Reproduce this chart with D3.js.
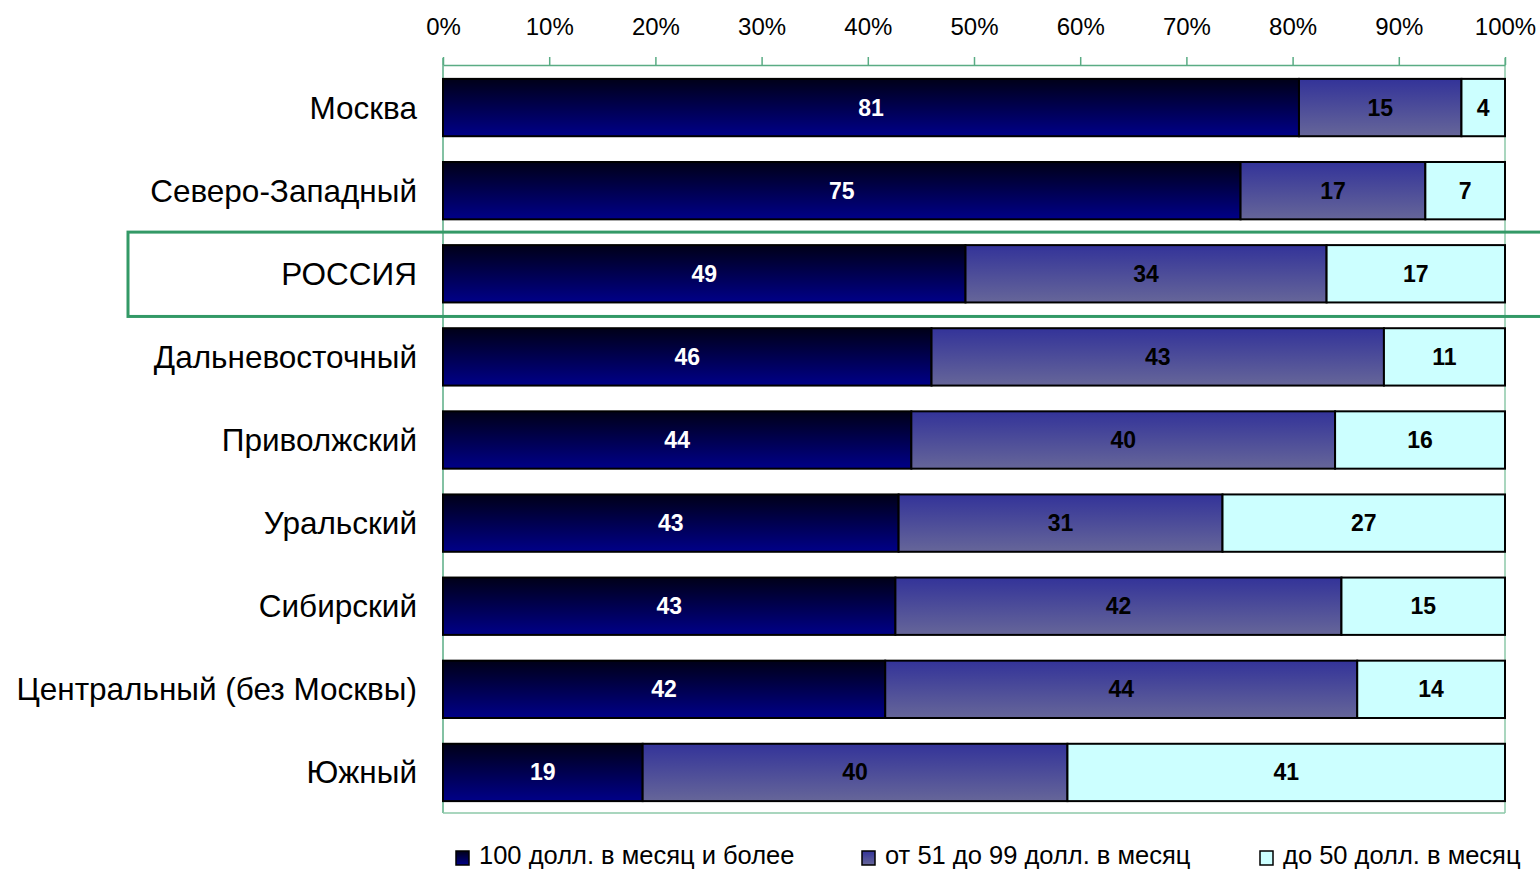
<!DOCTYPE html>
<html><head><meta charset="utf-8">
<script src="https://cdn.jsdelivr.net/npm/d3@7"></script>
<style>html,body{margin:0;padding:0;background:#fff}svg{display:block}</style>
</head><body>
<svg id="c" width="1540" height="871"></svg>
<script>
const categories = ["Москва","Северо-Западный","РОССИЯ","Дальневосточный","Приволжский","Уральский","Сибирский","Центральный (без Москвы)","Южный"];
const seriesNames = ["100 долл. в месяц и более","от 51 до 99 долл. в месяц","до 50 долл. в месяц"];
const high = [80.6,75.1,49.2,46.0,44.1,42.9,42.6,41.6,18.8];
const mid  = [15.3,17.4,34.0,42.6,39.9,30.5,42.0,44.4,40.0];
const low  = [4.1,7.5,16.8,11.4,16.0,26.6,15.4,13.9,41.2];
const labelHigh = [81,75,49,46,44,43,43,42,19];
const labelMid  = [15,17,34,43,40,31,42,44,40];
const labelLow  = [4,7,17,11,16,27,15,14,41];
const tickValues = [0,0.1,0.2,0.3,0.4,0.5,0.6,0.7,0.8,0.9,1];

const rows = categories.map((c,i)=>({cat:c, s0:high[i], s1:mid[i], s2:low[i], l0:labelHigh[i], l1:labelMid[i], l2:labelLow[i]}));
const keys = ["s0","s1","s2"];
const stack = d3.stack().keys(keys).offset(d3.stackOffsetExpand)(rows);

const svg = d3.select("#c");
const FONT = "Liberation Sans, Arial, sans-serif";
const x = d3.scaleLinear().domain([0,1]).range([443,1505]);
const y = d3.scaleBand().domain(categories).range([66,814]).paddingInner(0.31).paddingOuter(0.155);

const defs = svg.append("defs");
const g0 = defs.append("linearGradient").attr("id","gr0").attr("x1",0).attr("y1",0).attr("x2",0).attr("y2",1);
g0.append("stop").attr("offset","0%").attr("stop-color","#000018");
g0.append("stop").attr("offset","100%").attr("stop-color","#000088");
const g1 = defs.append("linearGradient").attr("id","gr1").attr("x1",0).attr("y1",0).attr("x2",0).attr("y2",1);
g1.append("stop").attr("offset","0%").attr("stop-color","#333399");
g1.append("stop").attr("offset","100%").attr("stop-color","#666699");
const fills = ["url(#gr0)","url(#gr1)","#ccffff"];
const textColors = ["#ffffff","#000000","#000000"];

// plot border
const borderColor = "#5aac84";
svg.append("line").attr("x1",x(0)).attr("x2",x(0)).attr("y1",58).attr("y2",813).attr("stroke",borderColor).attr("stroke-width",1.5);
svg.append("line").attr("x1",x(1)).attr("x2",x(1)).attr("y1",58).attr("y2",813).attr("stroke","#8cc8a8").attr("stroke-width",1.5);
svg.append("line").attr("x1",x(0)).attr("x2",x(1)).attr("y1",813).attr("y2",813).attr("stroke","#8cc8a8").attr("stroke-width",1.5);

// top axis
const axis = svg.append("g").attr("transform","translate(0,65)")
  .call(d3.axisTop(x).tickValues(tickValues).tickFormat(d3.format(".0%")).tickSize(8).tickSizeOuter(0).tickPadding(22));
axis.select(".domain").attr("stroke",borderColor).attr("stroke-width",1.5);
axis.selectAll(".tick line").attr("stroke",borderColor).attr("stroke-width",1.5);
axis.selectAll(".tick text").attr("font-family",FONT).attr("font-size",24).attr("fill","#000");

// bars
stack.forEach((layer,li)=>{
  const g = svg.append("g");
  g.selectAll("rect").data(layer).join("rect")
    .attr("x",d=>x(d[0])).attr("width",d=>x(d[1])-x(d[0]))
    .attr("y",d=>y(d.data.cat)).attr("height",y.bandwidth())
    .attr("fill",fills[li]).attr("stroke","#000").attr("stroke-width",2);
  g.selectAll("text").data(layer).join("text")
    .attr("x",d=>(x(d[0])+x(d[1]))/2)
    .attr("y",d=>y(d.data.cat)+y.bandwidth()/2+8)
    .attr("text-anchor","middle").attr("font-family",FONT).attr("font-weight","bold").attr("font-size",23)
    .attr("fill",textColors[li]).text(d=>d.data["l"+li]);
});

// category labels
svg.append("g").selectAll("text").data(categories).join("text")
  .attr("x",417).attr("y",d=>y(d)+y.bandwidth()/2+11)
  .attr("text-anchor","end").attr("font-family",FONT).attr("font-size",31.5).attr("fill","#000").text(d=>d);

// highlight box for РОССИЯ
const rb = y("РОССИЯ");
svg.append("rect").attr("x",128).attr("y",rb-13).attr("width",1430).attr("height",y.bandwidth()+27)
  .attr("fill","none").attr("stroke","#339966").attr("stroke-width",3);

// legend
const legX = [456,862,1260];
const leg = svg.append("g");
seriesNames.forEach((n,i)=>{
  leg.append("rect").attr("x",legX[i]).attr("y",851).attr("width",13).attr("height",14)
    .attr("fill",fills[i]).attr("stroke","#000").attr("stroke-width",1.5);
  leg.append("text").attr("x",legX[i]+23).attr("y",864).attr("font-family",FONT).attr("font-size",25.5)
    .attr("fill","#000").text(n);
});
</script>
</body></html>
